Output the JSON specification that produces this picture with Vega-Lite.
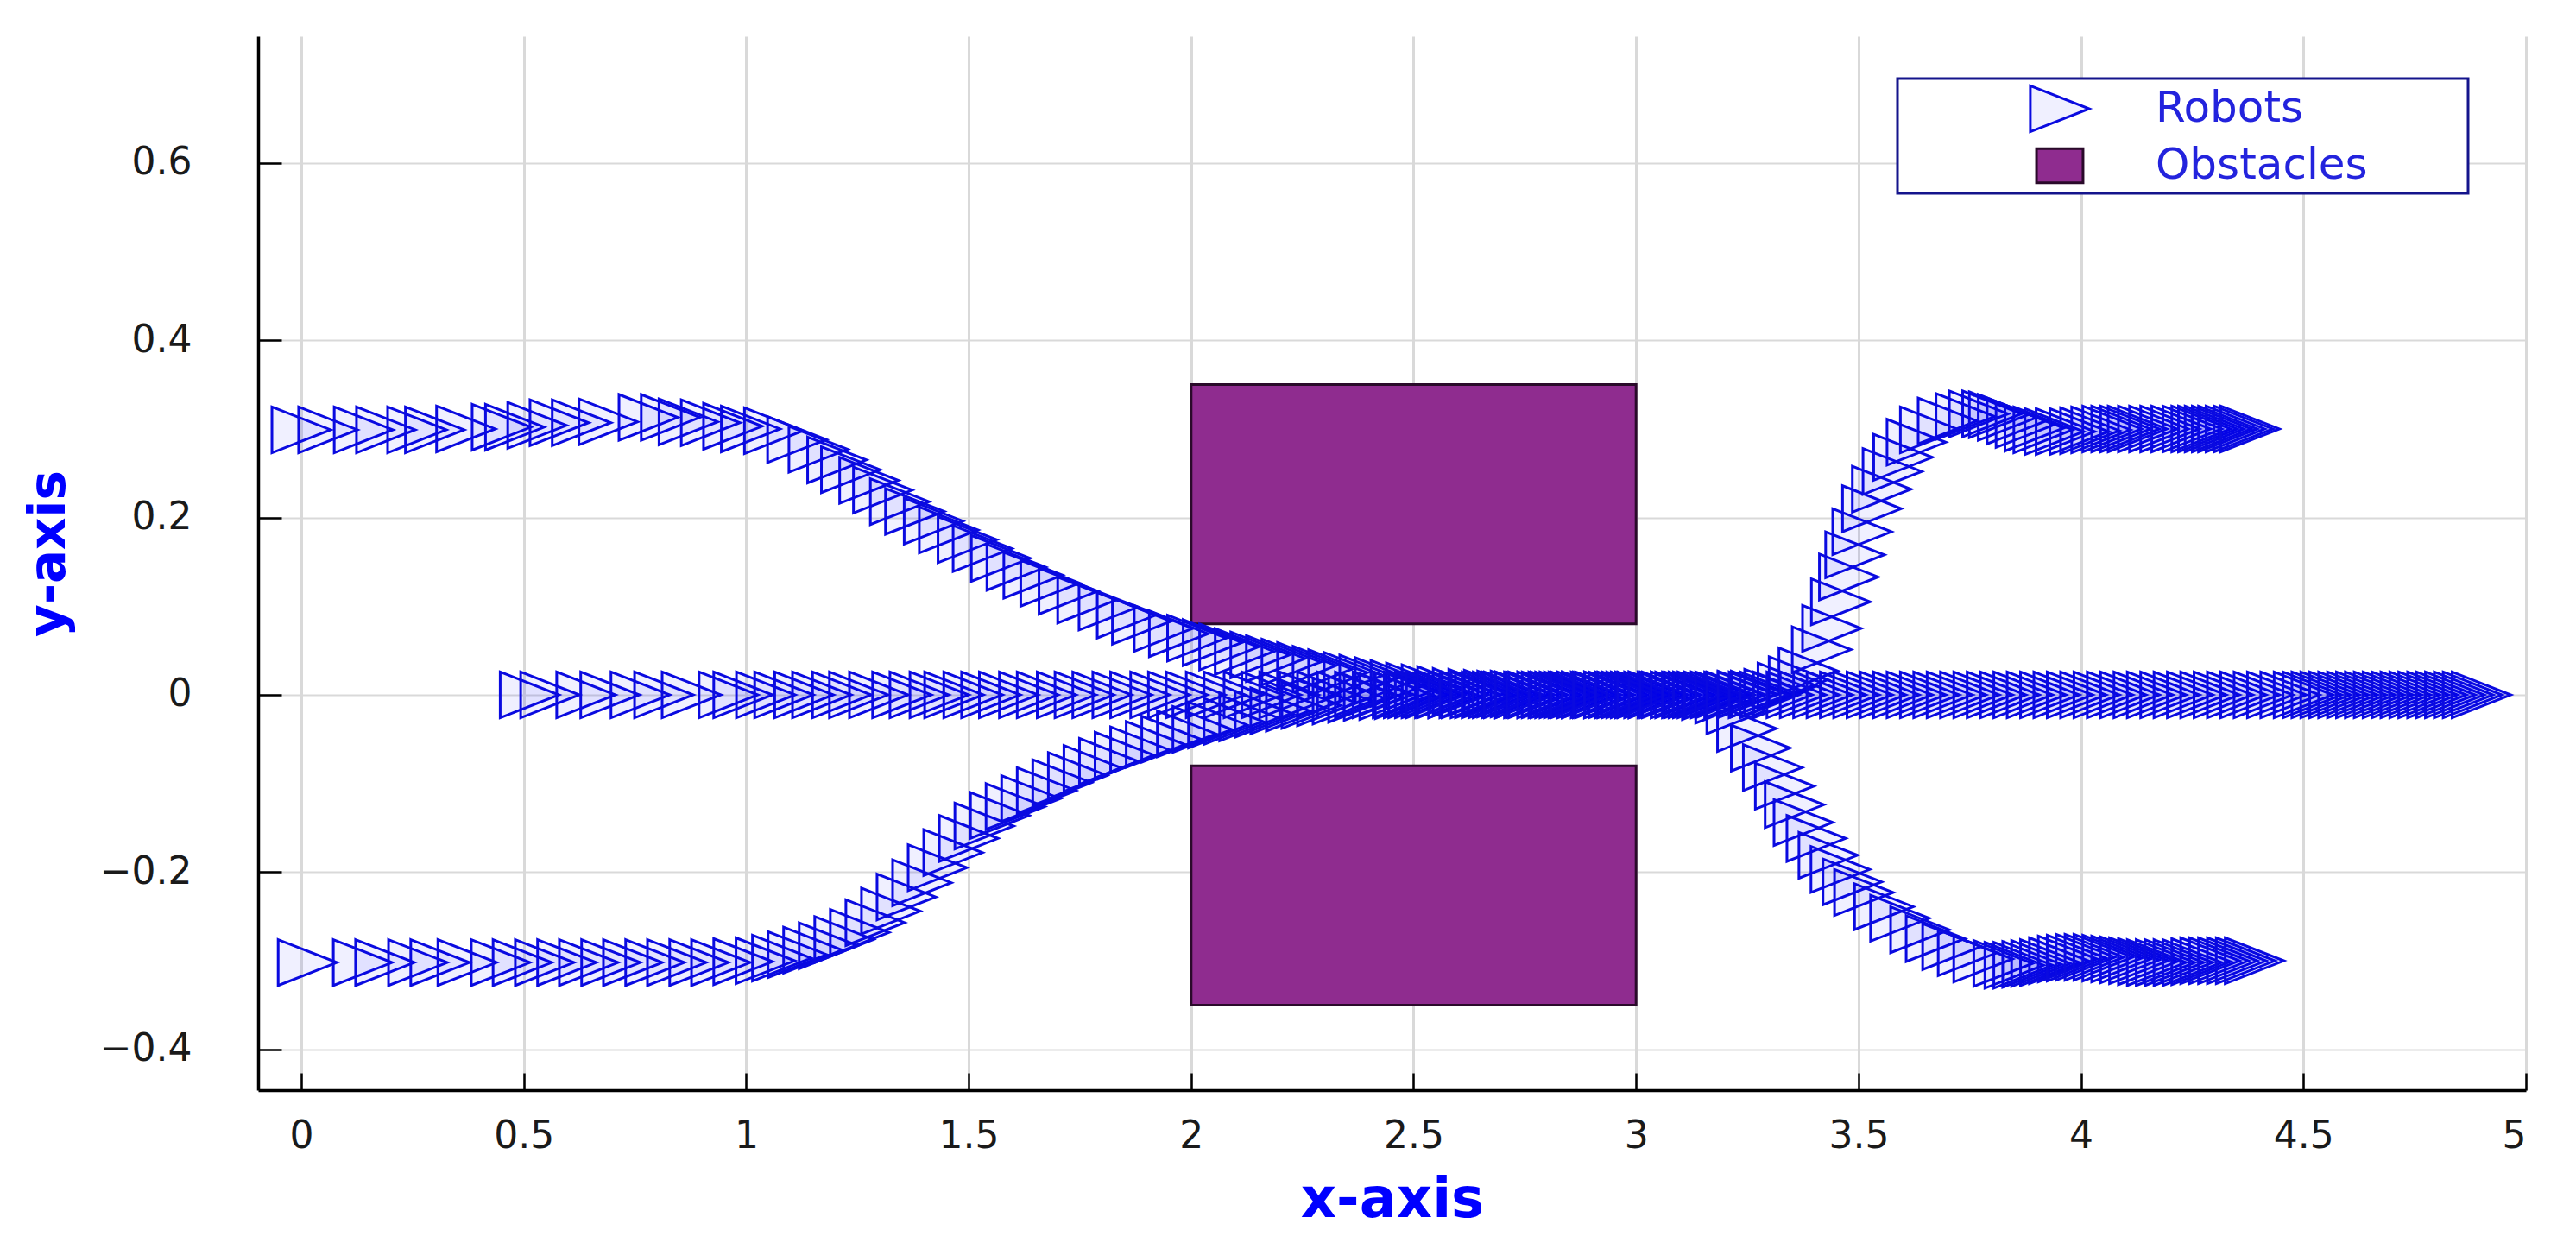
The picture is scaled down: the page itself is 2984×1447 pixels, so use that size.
{
  "$schema": "https://vega.github.io/schema/vega-lite/v6.json",
  "width": 2627,
  "height": 1221,
  "autosize": "none",
  "padding": {"left": 299, "top": 42, "right": 58, "bottom": 184},
  "background": "white",
  "config": {
    "view": {"stroke": null},
    "axis": {
      "labelFont": "DejaVu Sans", "labelFontSize": 44, "labelColor": "#1a1a1a",
      "titleFont": "DejaVu Sans", "titleFontSize": 58, "titleFontWeight": "bold", "titleColor": "#0000ff",
      "domainColor": "#000000", "domainWidth": 3.5, "tickColor": "#000000", "tickWidth": 2.5,
      "gridColor": "#d9d9d9", "gridOpacity": 1
    },
    "legend": {
      "strokeColor": "#14148c", "strokeWidth": 3, "fillColor": "#ffffff",
      "padding": 6, "rowPadding": 4,
      "labelFont": "DejaVu Sans", "labelFontSize": 50, "labelColor": "#2323dd", "labelLimit": 0,
      "labelOffset": 82, "symbolOffset": 153, "symbolSize": 3025, "symbolStrokeWidth": 3, "symbolOpacity": 1
    }
  },
  "datasets": {
    "obstacles": [
      {"x": 2, "x2": 3, "y": 0.08, "y2": 0.35},
      {"x": 2, "x2": 3, "y": -0.35, "y2": -0.08}
    ],
    "robots": [
      {"robot":"A","x":0,"y":0.299},{"robot":"A","x":0.06,"y":0.299},{"robot":"A","x":0.14,"y":0.299},{"robot":"A","x":0.19,"y":0.299},{"robot":"A","x":0.26,"y":0.299},{"robot":"A","x":0.3,"y":0.299},{"robot":"A","x":0.37,"y":0.3},{"robot":"A","x":0.45,"y":0.302},{"robot":"A","x":0.48,"y":0.302},{"robot":"A","x":0.53,"y":0.304},{"robot":"A","x":0.58,"y":0.307},{"robot":"A","x":0.63,"y":0.307},{"robot":"A","x":0.69,"y":0.308},{"robot":"A","x":0.78,"y":0.313},{"robot":"A","x":0.83,"y":0.313},{"robot":"A","x":0.87,"y":0.308},{"robot":"A","x":0.92,"y":0.307},{"robot":"A","x":0.97,"y":0.303},{"robot":"A","x":1.01,"y":0.3},
      {"robot":"A","x":1.062,"y":0.298},{"robot":"A","x":1.114,"y":0.288},{"robot":"A","x":1.162,"y":0.277},{"robot":"A","x":1.204,"y":0.265},{"robot":"A","x":1.235,"y":0.254},{"robot":"A","x":1.276,"y":0.242},{"robot":"A","x":1.307,"y":0.231},{"robot":"A","x":1.345,"y":0.218},{"robot":"A","x":1.379,"y":0.207},{"robot":"A","x":1.421,"y":0.196},{"robot":"A","x":1.455,"y":0.186},{"robot":"A","x":1.497,"y":0.175},{"robot":"A","x":1.531,"y":0.165},{"robot":"A","x":1.572,"y":0.154},{"robot":"A","x":1.607,"y":0.144},{"robot":"A","x":1.645,"y":0.135},{"robot":"A","x":1.683,"y":0.126},{"robot":"A","x":1.724,"y":0.117},{"robot":"A","x":1.766,"y":0.107},{"robot":"A","x":1.814,"y":0.099},{"robot":"A","x":1.855,"y":0.09},{"robot":"A","x":1.889,"y":0.083},{"robot":"A","x":1.938,"y":0.075},{"robot":"A","x":1.972,"y":0.069},{"robot":"A","x":2.013,"y":0.064},{"robot":"A","x":2.048,"y":0.059},
      {"robot":"A","x":2.085,"y":0.054},{"robot":"A","x":2.12,"y":0.049},{"robot":"A","x":2.155,"y":0.045},{"robot":"A","x":2.19,"y":0.041},{"robot":"A","x":2.225,"y":0.037},{"robot":"A","x":2.26,"y":0.033},{"robot":"A","x":2.295,"y":0.029},{"robot":"A","x":2.33,"y":0.025},{"robot":"A","x":2.365,"y":0.022},{"robot":"A","x":2.4,"y":0.019},{"robot":"A","x":2.435,"y":0.016},{"robot":"A","x":2.47,"y":0.013},{"robot":"A","x":2.505,"y":0.01},{"robot":"A","x":2.54,"y":0.008},{"robot":"A","x":2.575,"y":0.006},{"robot":"A","x":2.61,"y":0.004},{"robot":"A","x":2.645,"y":0.003},
      {"robot":"A","x":2.68,"y":0.002},{"robot":"A","x":2.71,"y":0.001},{"robot":"A","x":2.74,"y":0.001},{"robot":"A","x":2.77,"y":0},{"robot":"A","x":2.8,"y":0},{"robot":"A","x":2.83,"y":0},{"robot":"A","x":2.86,"y":0},{"robot":"A","x":2.89,"y":0},{"robot":"A","x":2.92,"y":0},{"robot":"A","x":2.95,"y":0},{"robot":"A","x":2.98,"y":0},{"robot":"A","x":3.01,"y":0},{"robot":"A","x":3.04,"y":0},{"robot":"A","x":3.07,"y":0},{"robot":"A","x":3.1,"y":0},{"robot":"A","x":3.13,"y":0},{"robot":"A","x":3.16,"y":0},{"robot":"A","x":3.19,"y":0},{"robot":"A","x":3.22,"y":0},{"robot":"A","x":3.25,"y":0.001},{"robot":"A","x":3.28,"y":0.001},{"robot":"A","x":3.31,"y":0.003},{"robot":"A","x":3.34,"y":0.01},{"robot":"A","x":3.365,"y":0.017},
      {"robot":"A","x":3.387,"y":0.027},{"robot":"A","x":3.417,"y":0.051},{"robot":"A","x":3.44,"y":0.075},{"robot":"A","x":3.46,"y":0.105},{"robot":"A","x":3.478,"y":0.133},{"robot":"A","x":3.492,"y":0.158},{"robot":"A","x":3.508,"y":0.184},{"robot":"A","x":3.53,"y":0.21},{"robot":"A","x":3.552,"y":0.232},{"robot":"A","x":3.576,"y":0.252},{"robot":"A","x":3.6,"y":0.268},{"robot":"A","x":3.63,"y":0.285},{"robot":"A","x":3.66,"y":0.299},{"robot":"A","x":3.7,"y":0.309},{"robot":"A","x":3.74,"y":0.314},{"robot":"A","x":3.77,"y":0.317},{"robot":"A","x":3.8,"y":0.317},{"robot":"A","x":3.815,"y":0.316},
      {"robot":"A","x":3.835,"y":0.313},{"robot":"A","x":3.855,"y":0.309},{"robot":"A","x":3.875,"y":0.305},{"robot":"A","x":3.895,"y":0.301},{"robot":"A","x":3.915,"y":0.299},{"robot":"A","x":3.94,"y":0.297},{"robot":"A","x":3.965,"y":0.297},{"robot":"A","x":3.996,"y":0.297},{"robot":"A","x":4.02,"y":0.298},{"robot":"A","x":4.045,"y":0.299},{"robot":"A","x":4.07,"y":0.3},{"robot":"A","x":4.09,"y":0.3},{"robot":"A","x":4.11,"y":0.3},{"robot":"A","x":4.127,"y":0.3},{"robot":"A","x":4.15,"y":0.3},{"robot":"A","x":4.175,"y":0.3},{"robot":"A","x":4.2,"y":0.3},{"robot":"A","x":4.225,"y":0.3},{"robot":"A","x":4.25,"y":0.3},{"robot":"A","x":4.27,"y":0.3},{"robot":"A","x":4.285,"y":0.3},{"robot":"A","x":4.3,"y":0.3},{"robot":"A","x":4.316,"y":0.3},{"robot":"A","x":4.33,"y":0.3},{"robot":"A","x":4.347,"y":0.3},{"robot":"A","x":4.365,"y":0.3},{"robot":"A","x":4.38,"y":0.3},
      {"robot":"B","x":0.014,"y":-0.302},{"robot":"B","x":0.138,"y":-0.302},{"robot":"B","x":0.188,"y":-0.302},{"robot":"B","x":0.262,"y":-0.302},{"robot":"B","x":0.312,"y":-0.302},{"robot":"B","x":0.373,"y":-0.302},{"robot":"B","x":0.448,"y":-0.302},{"robot":"B","x":0.497,"y":-0.302},{"robot":"B","x":0.547,"y":-0.302},{"robot":"B","x":0.597,"y":-0.302},{"robot":"B","x":0.646,"y":-0.302},{"robot":"B","x":0.696,"y":-0.302},{"robot":"B","x":0.745,"y":-0.302},{"robot":"B","x":0.795,"y":-0.302},{"robot":"B","x":0.844,"y":-0.302},{"robot":"B","x":0.894,"y":-0.302},{"robot":"B","x":0.943,"y":-0.302},{"robot":"B","x":0.993,"y":-0.301},{"robot":"B","x":1.043,"y":-0.3},
      {"robot":"B","x":1.08,"y":-0.297},{"robot":"B","x":1.115,"y":-0.293},{"robot":"B","x":1.15,"y":-0.288},{"robot":"B","x":1.185,"y":-0.283},{"robot":"B","x":1.22,"y":-0.276},{"robot":"B","x":1.255,"y":-0.268},{"robot":"B","x":1.29,"y":-0.257},{"robot":"B","x":1.325,"y":-0.244},{"robot":"B","x":1.36,"y":-0.228},{"robot":"B","x":1.395,"y":-0.212},{"robot":"B","x":1.43,"y":-0.195},{"robot":"B","x":1.465,"y":-0.178},{"robot":"B","x":1.5,"y":-0.162},{"robot":"B","x":1.535,"y":-0.148},{"robot":"B","x":1.57,"y":-0.136},{"robot":"B","x":1.605,"y":-0.126},{"robot":"B","x":1.64,"y":-0.117},{"robot":"B","x":1.675,"y":-0.108},{"robot":"B","x":1.71,"y":-0.099},{"robot":"B","x":1.745,"y":-0.091},{"robot":"B","x":1.78,"y":-0.083},{"robot":"B","x":1.815,"y":-0.075},{"robot":"B","x":1.85,"y":-0.068},{"robot":"B","x":1.885,"y":-0.062},{"robot":"B","x":1.92,"y":-0.056},{"robot":"B","x":1.955,"y":-0.05},{"robot":"B","x":1.99,"y":-0.044},{"robot":"B","x":2.025,"y":-0.039},{"robot":"B","x":2.06,"y":-0.034},{"robot":"B","x":2.095,"y":-0.03},{"robot":"B","x":2.13,"y":-0.026},{"robot":"B","x":2.165,"y":-0.022},{"robot":"B","x":2.2,"y":-0.018},{"robot":"B","x":2.235,"y":-0.015},{"robot":"B","x":2.27,"y":-0.012},{"robot":"B","x":2.305,"y":-0.009},{"robot":"B","x":2.34,"y":-0.007},{"robot":"B","x":2.375,"y":-0.005},{"robot":"B","x":2.41,"y":-0.003},{"robot":"B","x":2.445,"y":-0.002},{"robot":"B","x":2.48,"y":-0.001},
      {"robot":"B","x":2.51,"y":0},{"robot":"B","x":2.54,"y":0},{"robot":"B","x":2.57,"y":0},{"robot":"B","x":2.6,"y":0},{"robot":"B","x":2.63,"y":0},{"robot":"B","x":2.66,"y":0},{"robot":"B","x":2.69,"y":0},{"robot":"B","x":2.72,"y":0},{"robot":"B","x":2.75,"y":0},{"robot":"B","x":2.78,"y":0},{"robot":"B","x":2.81,"y":0},{"robot":"B","x":2.84,"y":0},{"robot":"B","x":2.87,"y":0},{"robot":"B","x":2.9,"y":0},{"robot":"B","x":2.93,"y":0},{"robot":"B","x":2.96,"y":0},{"robot":"B","x":2.99,"y":0},{"robot":"B","x":3.02,"y":0},{"robot":"B","x":3.05,"y":0},{"robot":"B","x":3.08,"y":0},{"robot":"B","x":3.11,"y":0},{"robot":"B","x":3.14,"y":0},{"robot":"B","x":3.17,"y":-0.002},{"robot":"B","x":3.2,"y":-0.006},
      {"robot":"B","x":3.225,"y":-0.018},{"robot":"B","x":3.249,"y":-0.038},{"robot":"B","x":3.28,"y":-0.06},{"robot":"B","x":3.307,"y":-0.082},{"robot":"B","x":3.334,"y":-0.103},{"robot":"B","x":3.356,"y":-0.124},{"robot":"B","x":3.376,"y":-0.144},{"robot":"B","x":3.405,"y":-0.162},{"robot":"B","x":3.432,"y":-0.181},{"robot":"B","x":3.459,"y":-0.197},{"robot":"B","x":3.486,"y":-0.211},{"robot":"B","x":3.512,"y":-0.223},{"robot":"B","x":3.557,"y":-0.239},{"robot":"B","x":3.593,"y":-0.252},{"robot":"B","x":3.638,"y":-0.265},{"robot":"B","x":3.673,"y":-0.275},{"robot":"B","x":3.71,"y":-0.284},{"robot":"B","x":3.745,"y":-0.291},{"robot":"B","x":3.78,"y":-0.298},{"robot":"B","x":3.825,"y":-0.303},
      {"robot":"B","x":3.85,"y":-0.305},{"robot":"B","x":3.87,"y":-0.305},{"robot":"B","x":3.89,"y":-0.304},{"robot":"B","x":3.91,"y":-0.303},{"robot":"B","x":3.93,"y":-0.302},{"robot":"B","x":3.95,"y":-0.3},{"robot":"B","x":3.97,"y":-0.298},{"robot":"B","x":3.99,"y":-0.297},{"robot":"B","x":4.01,"y":-0.296},{"robot":"B","x":4.03,"y":-0.296},{"robot":"B","x":4.05,"y":-0.296},{"robot":"B","x":4.07,"y":-0.297},{"robot":"B","x":4.09,"y":-0.298},{"robot":"B","x":4.11,"y":-0.299},{"robot":"B","x":4.13,"y":-0.3},{"robot":"B","x":4.15,"y":-0.301},{"robot":"B","x":4.17,"y":-0.302},{"robot":"B","x":4.19,"y":-0.302},{"robot":"B","x":4.21,"y":-0.302},{"robot":"B","x":4.23,"y":-0.302},{"robot":"B","x":4.25,"y":-0.302},{"robot":"B","x":4.27,"y":-0.301},{"robot":"B","x":4.29,"y":-0.3},{"robot":"B","x":4.31,"y":-0.3},{"robot":"B","x":4.33,"y":-0.3},{"robot":"B","x":4.35,"y":-0.3},{"robot":"B","x":4.37,"y":-0.3},{"robot":"B","x":4.39,"y":-0.3},
      {"robot":"C","x":0.513,"y":0},{"robot":"C","x":0.559,"y":0},{"robot":"C","x":0.64,"y":0},{"robot":"C","x":0.694,"y":0},{"robot":"C","x":0.762,"y":0},{"robot":"C","x":0.815,"y":0},{"robot":"C","x":0.877,"y":0},{"robot":"C","x":0.96,"y":0},{"robot":"C","x":0.993,"y":0},{"robot":"C","x":1.044,"y":0},{"robot":"C","x":1.085,"y":0},{"robot":"C","x":1.13,"y":0},{"robot":"C","x":1.17,"y":0},{"robot":"C","x":1.215,"y":0},{"robot":"C","x":1.253,"y":0},{"robot":"C","x":1.298,"y":0},{"robot":"C","x":1.35,"y":0},{"robot":"C","x":1.389,"y":0},{"robot":"C","x":1.434,"y":0},{"robot":"C","x":1.467,"y":0},
      {"robot":"C","x":1.51,"y":0},{"robot":"C","x":1.55,"y":0},{"robot":"C","x":1.59,"y":0},{"robot":"C","x":1.635,"y":0},{"robot":"C","x":1.675,"y":0},{"robot":"C","x":1.72,"y":0},{"robot":"C","x":1.76,"y":0},{"robot":"C","x":1.8,"y":0},{"robot":"C","x":1.845,"y":0},{"robot":"C","x":1.885,"y":0},{"robot":"C","x":1.93,"y":0},{"robot":"C","x":1.97,"y":0},{"robot":"C","x":2.01,"y":0},{"robot":"C","x":2.055,"y":0},{"robot":"C","x":2.095,"y":0},{"robot":"C","x":2.14,"y":0},{"robot":"C","x":2.18,"y":0},{"robot":"C","x":2.22,"y":0},{"robot":"C","x":2.265,"y":0},{"robot":"C","x":2.305,"y":0},{"robot":"C","x":2.35,"y":0},{"robot":"C","x":2.39,"y":0},{"robot":"C","x":2.43,"y":0},{"robot":"C","x":2.475,"y":0},
      {"robot":"C","x":2.5,"y":0},{"robot":"C","x":2.525,"y":0},{"robot":"C","x":2.55,"y":0},{"robot":"C","x":2.575,"y":0},{"robot":"C","x":2.6,"y":0},{"robot":"C","x":2.625,"y":0},{"robot":"C","x":2.65,"y":0},{"robot":"C","x":2.675,"y":0},{"robot":"C","x":2.7,"y":0},{"robot":"C","x":2.725,"y":0},{"robot":"C","x":2.75,"y":0},{"robot":"C","x":2.775,"y":0},{"robot":"C","x":2.8,"y":0},{"robot":"C","x":2.825,"y":0},{"robot":"C","x":2.85,"y":0},{"robot":"C","x":2.875,"y":0},{"robot":"C","x":2.9,"y":0},{"robot":"C","x":2.925,"y":0},{"robot":"C","x":2.95,"y":0},{"robot":"C","x":2.975,"y":0},{"robot":"C","x":3,"y":0},{"robot":"C","x":3.025,"y":0},{"robot":"C","x":3.05,"y":0},{"robot":"C","x":3.075,"y":0},{"robot":"C","x":3.1,"y":0},{"robot":"C","x":3.125,"y":0},{"robot":"C","x":3.15,"y":0},{"robot":"C","x":3.175,"y":0},{"robot":"C","x":3.2,"y":0},{"robot":"C","x":3.225,"y":0},{"robot":"C","x":3.25,"y":0},{"robot":"C","x":3.275,"y":0},{"robot":"C","x":3.3,"y":0},
      {"robot":"C","x":3.33,"y":0},{"robot":"C","x":3.36,"y":0},{"robot":"C","x":3.39,"y":0},{"robot":"C","x":3.42,"y":0},{"robot":"C","x":3.45,"y":0},{"robot":"C","x":3.48,"y":0},{"robot":"C","x":3.51,"y":0},{"robot":"C","x":3.54,"y":0},{"robot":"C","x":3.57,"y":0},{"robot":"C","x":3.6,"y":0},{"robot":"C","x":3.63,"y":0},{"robot":"C","x":3.66,"y":0},{"robot":"C","x":3.69,"y":0},{"robot":"C","x":3.72,"y":0},{"robot":"C","x":3.75,"y":0},{"robot":"C","x":3.78,"y":0},{"robot":"C","x":3.81,"y":0},{"robot":"C","x":3.84,"y":0},{"robot":"C","x":3.87,"y":0},{"robot":"C","x":3.9,"y":0},{"robot":"C","x":3.93,"y":0},{"robot":"C","x":3.96,"y":0},{"robot":"C","x":3.99,"y":0},{"robot":"C","x":4.02,"y":0},{"robot":"C","x":4.05,"y":0},{"robot":"C","x":4.08,"y":0},{"robot":"C","x":4.11,"y":0},{"robot":"C","x":4.14,"y":0},{"robot":"C","x":4.17,"y":0},{"robot":"C","x":4.2,"y":0},{"robot":"C","x":4.23,"y":0},{"robot":"C","x":4.26,"y":0},{"robot":"C","x":4.29,"y":0},{"robot":"C","x":4.32,"y":0},{"robot":"C","x":4.35,"y":0},{"robot":"C","x":4.38,"y":0},{"robot":"C","x":4.41,"y":0},{"robot":"C","x":4.44,"y":0},{"robot":"C","x":4.47,"y":0},{"robot":"C","x":4.5,"y":0},
      {"robot":"C","x":4.52,"y":0},{"robot":"C","x":4.54,"y":0},{"robot":"C","x":4.56,"y":0},{"robot":"C","x":4.58,"y":0},{"robot":"C","x":4.6,"y":0},{"robot":"C","x":4.62,"y":0},{"robot":"C","x":4.64,"y":0},{"robot":"C","x":4.66,"y":0},{"robot":"C","x":4.68,"y":0},{"robot":"C","x":4.7,"y":0},{"robot":"C","x":4.72,"y":0},{"robot":"C","x":4.74,"y":0},{"robot":"C","x":4.76,"y":0},{"robot":"C","x":4.78,"y":0},{"robot":"C","x":4.8,"y":0},{"robot":"C","x":4.82,"y":0},{"robot":"C","x":4.84,"y":0},{"robot":"C","x":4.86,"y":0},{"robot":"C","x":4.88,"y":0},{"robot":"C","x":4.9,"y":0}
    ]
  },
  "layer": [
    {
      "data": {"name": "obstacles"},
      "mark": {"type": "rect", "fill": "#8f2c8f", "stroke": "#2a0a2a", "strokeWidth": 3},
      "encoding": {
        "x": {
          "field": "x", "type": "quantitative",
          "scale": {"domain": [-0.097, 5.0], "nice": false, "zero": false},
          "axis": {"values": [0, 0.5, 1, 1.5, 2, 2.5, 3, 3.5, 4, 4.5, 5], "format": "~g", "title": "x-axis",
                   "tickSize": -20, "labelPadding": 51, "grid": true, "gridWidth": 3,
                   "titleFontSize": 64, "titleBaseline": "alphabetic", "titleY": 146}
        },
        "x2": {"field": "x2"},
        "y": {
          "field": "y", "type": "quantitative",
          "scale": {"domain": [-0.446, 0.743], "nice": false, "zero": false},
          "axis": {"values": [-0.4, -0.2, 0, 0.2, 0.4, 0.6], "format": "~g", "title": "y-axis",
                   "tickSize": -27, "labelPadding": 104, "grid": true, "gridWidth": 2,
                   "titleBaseline": "alphabetic", "titleX": -225, "titleY": 599}
        },
        "y2": {"field": "y2"}
      }
    },
    {
      "data": {"name": "robots"},
      "mark": {"type": "point", "size": 3005, "filled": true, "fillOpacity": 1, "strokeWidth": 3, "opacity": 1},
      "encoding": {
        "x": {"field": "x", "type": "quantitative"},
        "y": {"field": "y", "type": "quantitative"},
        "fill": {
          "datum": "Robots", "type": "nominal",
          "scale": {"domain": ["Robots", "Obstacles"], "range": ["rgba(0,0,255,0.06)", "#8f2c8f"]},
          "legend": {"title": null, "orient": "none", "legendX": 1899, "legendY": 49,
                     "labelExpr": "datum.label + '\u2800\u2800\u2800'"}
        },
        "stroke": {
          "datum": "Robots", "type": "nominal",
          "scale": {"domain": ["Robots", "Obstacles"], "range": ["#0a0ae0", "#2a0a2a"]},
          "legend": {"title": null, "orient": "none", "legendX": 1899, "legendY": 49,
                     "labelExpr": "datum.label + '\u2800\u2800\u2800'"}
        },
        "shape": {
          "datum": "Robots", "type": "nominal",
          "scale": {"domain": ["Robots", "Obstacles"], "range": ["M-1.24,-0.97L1.24,0L-1.24,0.97Z", "M-0.98,-0.72L0.98,-0.72L0.98,0.72L-0.98,0.72Z"]},
          "legend": {"title": null, "orient": "none", "legendX": 1899, "legendY": 49,
                     "labelExpr": "datum.label + '\u2800\u2800\u2800'"}
        }
      }
    }
  ]
}
